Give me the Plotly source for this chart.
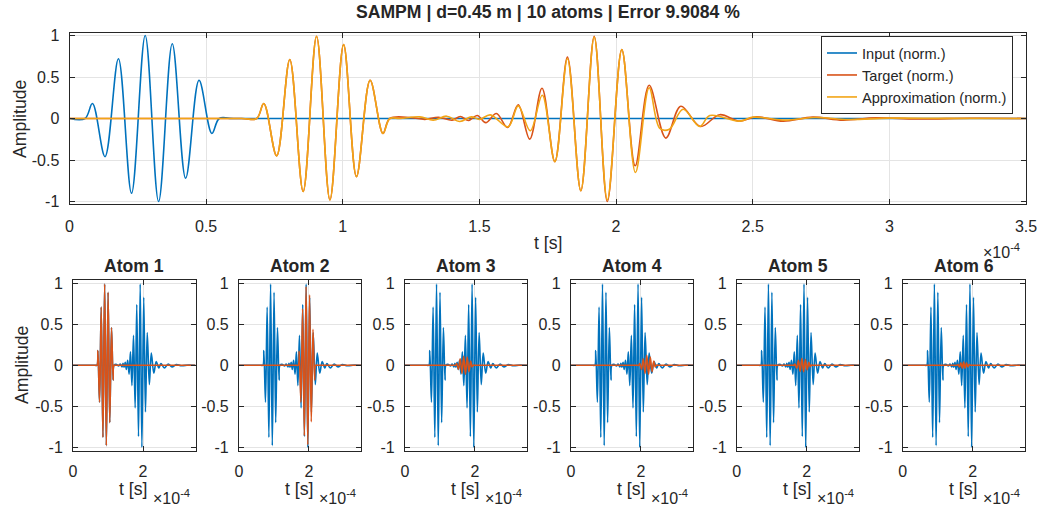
import plotly.graph_objects as go

W, H = 1043, 508
FONT = "Liberation Sans, Arial, Helvetica, sans-serif"
INK = "#262626"

C_IN = "#0072BD"
C_TG = "#D95319"
C_AP = "#F2A516"

# time in units of 1e-4 s
t_input = [0, 0.057, 0.084, 0.130, 0.179, 0.227, 0.277, 0.326, 0.376, 0.425, 0.474, 0.521, 0.548, 0.60, 3.5]
input_norm = [0, 0, 0.18, -0.46, 0.72, -0.90, 1.00, -1.00, 0.90, -0.72, 0.46, -0.18, 0, 0, 0]

# direct arrival: target and approximation lie on top of each other here (= atom 1)
t_direct = [0, 0.63, 0.685, 0.711, 0.758, 0.806, 0.855, 0.904, 0.953, 1.003, 1.050, 1.100, 1.147, 1.172]
direct = [0, 0, 0, 0.18, -0.45, 0.71, -0.88, 0.99, -0.98, 0.89, -0.70, 0.46, -0.18, 0]

t_target_tail = [1.25, 1.30, 1.35, 1.40, 1.43, 1.46, 1.492, 1.523, 1.562, 1.603, 1.642, 1.684,
                 1.729, 1.776, 1.822, 1.871, 1.920, 1.968, 2.021, 2.070, 2.121, 2.182, 2.237,
                 2.309, 2.379, 2.452, 2.513, 2.611, 2.72, 2.83, 2.95, 3.1, 3.3, 3.5]
target_tail = [0.01, -0.01, 0.015, -0.02, 0.024, -0.024, 0.036, -0.05, 0.06, -0.108, 0.164, -0.248,
               0.364, -0.52, 0.74, -0.87, 0.99, -1.0, 0.83, -0.57, 0.40, -0.236, 0.148,
               -0.096, 0.046, -0.032, 0.02, -0.032, 0.016, -0.02, 0.008, -0.006, 0.003, 0]

t_approx_tail = [1.209, 1.282, 1.331, 1.380, 1.428, 1.471, 1.50, 1.540, 1.605, 1.642, 1.686, 1.730,
                 1.776, 1.822, 1.871, 1.920, 1.968, 2.021, 2.071, 2.121, 2.160, 2.195, 2.245,
                 2.306, 2.343, 2.452, 2.50, 2.62, 2.73, 2.85, 3.0, 3.2, 3.5]
approx_tail = [0, 0.02, -0.02, 0.028, -0.036, 0.02, -0.01, 0.044, -0.10, 0.152, -0.148, 0.28,
               -0.52, 0.72, -0.87, 0.98, -0.98, 0.83, -0.65, 0.37, -0.12, -0.13, 0.112,
               -0.096, 0.036, -0.032, 0.016, -0.02, 0.012, -0.012, 0.004, 0.002, 0]

t_target = t_direct + t_target_tail
target_norm = direct + target_tail
t_approx = t_direct + t_approx_tail
approx_norm = direct + approx_tail

# atoms 2..6 (atom 1 is the direct arrival)
t_atom2 = [1.695, 1.722, 1.770, 1.819, 1.868, 1.918, 1.967, 2.017, 2.066, 2.115, 2.162, 2.189]
atom2 = [0, 0.17, -0.45, 0.69, -0.86, 0.96, -0.97, 0.86, -0.69, 0.44, -0.18, 0]
t_atom3 = [1.45, 1.48, 1.53, 1.58, 1.63, 1.68, 1.73, 1.78, 1.83, 1.88, 1.92, 1.95]
atom3 = [0, 0.02, -0.05, 0.08, -0.10, 0.11, -0.11, 0.10, -0.08, 0.05, -0.02, 0]
t_atom4 = [1.94, 1.97, 2.02, 2.07, 2.12, 2.17, 2.22, 2.27, 2.32, 2.37, 2.41, 2.44]
atom4 = [0, 0.02, -0.05, 0.08, -0.10, 0.12, -0.11, 0.10, -0.08, 0.05, -0.02, 0]
t_atom5 = [1.63, 1.66, 1.71, 1.76, 1.81, 1.86, 1.91, 1.96, 2.01, 2.06, 2.10, 2.13]
atom5 = [0, 0.015, -0.035, 0.06, -0.075, 0.085, -0.08, 0.07, -0.055, 0.035, -0.015, 0]
t_atom6 = [1.55, 1.58, 1.62, 1.66, 1.70, 1.74, 1.78, 1.82, 1.86, 1.90, 1.93]
atom6 = [0, 0.01, -0.02, 0.03, -0.035, 0.04, -0.035, 0.03, -0.02, 0.01, 0]

atoms_t = [t_direct[2:], t_atom2, t_atom3, t_atom4, t_atom5, t_atom6]
atoms_v = [direct[2:], atom2, atom3, atom4, atom5, atom6]

title_txt = "SAMPM | d=0.45 m | 10 atoms | Error 9.9084 %"


def px(x):
    return x / W


def py(y):
    return 1 - y / H


def ax_style(size):
    return dict(showline=True, linecolor=INK, linewidth=1, mirror="allticks",
                ticks="inside", ticklen=5, tickcolor=INK, showgrid=True,
                gridcolor="#e4e4e4", gridwidth=1, zeroline=False, automargin=False,
                tickfont=dict(family=FONT, size=size, color=INK))


ytv = [-1, -0.5, 0, 0.5, 1]
ytt = ["-1", "-0.5", "0", "0.5", "1"]

fig = go.Figure()
sp = dict(shape="spline", smoothing=1)

fig.add_trace(go.Scatter(x=t_input, y=input_norm, mode="lines", name="Input (norm.)",
                         line=dict(color=C_IN, width=1.6, **sp), xaxis="x", yaxis="y"))
fig.add_trace(go.Scatter(x=t_target, y=target_norm, mode="lines", name="Target (norm.)",
                         line=dict(color=C_TG, width=1.6, **sp), xaxis="x", yaxis="y"))
fig.add_trace(go.Scatter(x=t_approx, y=approx_norm, mode="lines", name="Approximation (norm.)",
                         line=dict(color=C_AP, width=1.6, **sp), xaxis="x", yaxis="y"))

layout = dict(
    width=W, height=H, margin=dict(l=0, r=0, t=0, b=0, pad=0, autoexpand=False),
    paper_bgcolor="white", plot_bgcolor="white",
    font=dict(family=FONT, color=INK),
    showlegend=True,
    legend=dict(x=px(1013), y=py(36), xanchor="right", yanchor="top",
                bgcolor="white", bordercolor=INK, borderwidth=1,
                font=dict(family=FONT, size=14.6, color=INK)),
)

xa = ax_style(16)
xa.update(domain=[px(69.5), px(1026)], range=[0, 3.5], anchor="y",
          tickvals=[0, 0.5, 1, 1.5, 2, 2.5, 3, 3.5],
          ticktext=["0", "0.5", "1", "1.5", "2", "2.5", "3", "3.5"], ticklabelstandoff=8)
ya = ax_style(16)
ya.update(domain=[py(204), py(33)], range=[-1.03, 1.03], anchor="x",
          tickvals=ytv, ticktext=ytt, ticklabelstandoff=6)
layout["xaxis"] = xa
layout["yaxis"] = ya

ann = [
    dict(text="<b>" + title_txt + "</b>", x=px(548), y=py(12), font=dict(size=17.6)),
    dict(text="Amplitude", x=px(20), y=py(119), textangle=-90, font=dict(size=17.6)),
    dict(text="t [s]", x=px(548), y=py(243), font=dict(size=17.6)),
    dict(text="×10<sup>-4</sup>", x=px(981), y=py(251), xanchor="left", font=dict(size=16)),
    dict(text="Amplitude", x=px(22), y=py(365), textangle=-90, font=dict(size=17.6)),
]

for i in range(6):
    k = i + 2
    left = 73 + 165.95 * i
    right = left + 122.5
    xs = ax_style(16)
    xs.update(domain=[px(left), px(right)], range=[0, 3.5], anchor="y%d" % k,
              tickvals=[0, 2], ticktext=["0", "2"], ticklabelstandoff=6)
    ys = ax_style(16)
    ys.update(domain=[py(450.5), py(280)], range=[-1.04, 1.04], anchor="x%d" % k,
              tickvals=ytv, ticktext=ytt, ticklabelstandoff=6)
    layout["xaxis%d" % k] = xs
    layout["yaxis%d" % k] = ys

    fig.add_trace(go.Scatter(x=t_target, y=target_norm, mode="lines", showlegend=False,
                             line=dict(color=C_IN, width=1.6, **sp),
                             xaxis="x%d" % k, yaxis="y%d" % k))
    ta, va = atoms_t[i], atoms_v[i]
    fig.add_trace(go.Scatter(x=[0, ta[0] - 0.05] + ta + [ta[-1] + 0.05, 3.5],
                             y=[0, 0] + va + [0, 0], mode="lines", showlegend=False,
                             line=dict(color=C_TG, width=1.6, **sp),
                             xaxis="x%d" % k, yaxis="y%d" % k))

    cx = (left + right) / 2
    ann.append(dict(text="<b>Atom %d</b>" % (i + 1), x=px(cx), y=py(266), font=dict(size=17.6)))
    ann.append(dict(text="t [s]", x=px(cx - 1), y=py(489), font=dict(size=17.6)))
    ann.append(dict(text="×10<sup>-4</sup>", x=px(left + 78), y=py(497), xanchor="left",
                    font=dict(size=16)))

for a in ann:
    a.setdefault("xanchor", "center")
    a.update(xref="paper", yref="paper", yanchor="middle", showarrow=False)
    a["font"].update(family=FONT, color=INK)
layout["annotations"] = ann

fig.update_layout(**layout)
# drop the default page margin so the figure sits at the window's corner
fig.write_html("out.html", config={"displayModeBar": False},
               post_script="document.body.style.margin='0';")
